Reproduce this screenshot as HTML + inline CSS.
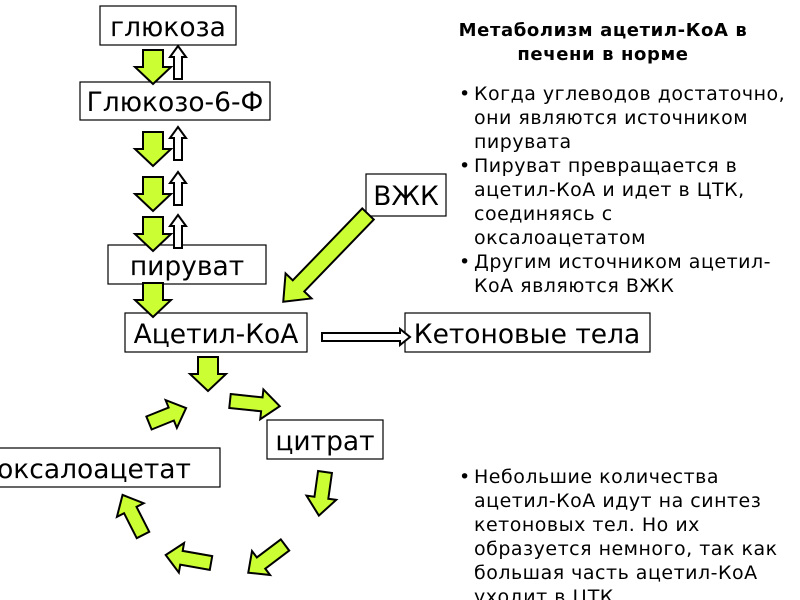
<!DOCTYPE html>
<html><head><meta charset="utf-8"><style>
html,body{margin:0;padding:0;background:#fff;width:800px;height:600px;overflow:hidden}
svg{display:block}
text{font-family:"DejaVu Sans","Liberation Sans",sans-serif;fill:#000}
.g{fill:#ccff33;stroke:#000;stroke-width:2}
.h{fill:#fff;stroke:#000;stroke-width:2}
.b{fill:#fff;stroke:#000;stroke-width:1.2}
.big{font-size:26.5px}
.t{font-size:19px;letter-spacing:0.5px}
</style></head><body>
<svg width="800" height="600" viewBox="0 0 800 600">
<defs>
<polygon id="ga" points="0,-10 17,-10 17,-18 34,0 17,18 17,10 0,10"/>
<polygon id="ha" points="0,-4 22,-4 22,-8 33,0 22,8 22,4 0,4"/>
</defs>
<rect class="b" x="100" y="6" width="136" height="39"/>
<text class="big" x="168" y="36" text-anchor="middle">глюкоза</text>
<rect class="b" x="80" y="82" width="190" height="38"/>
<text class="big" x="175" y="111" text-anchor="middle">Глюкозо-6-Ф</text>
<rect class="b" x="108" y="245" width="158" height="39"/>
<text class="big" x="187" y="275" text-anchor="middle">пируват</text>
<rect class="b" x="125" y="313" width="182" height="39"/>
<text class="big" x="216" y="343" text-anchor="middle">Ацетил-КоА</text>
<rect class="b" x="366" y="174" width="80" height="42"/>
<text class="big" x="406" y="205" text-anchor="middle">ВЖК</text>
<rect class="b" x="405" y="313" width="245" height="39"/>
<text class="big" x="527" y="343" text-anchor="middle">Кетоновые тела</text>
<rect class="b" x="267" y="420" width="116" height="39"/>
<text class="big" x="325" y="450" text-anchor="middle">цитрат</text>
<rect class="b" x="-10" y="448" width="230" height="39"/>
<text class="big" x="94" y="478" text-anchor="middle">оксалоацетат</text>

<use href="#ga" class="g" transform="translate(153,50) rotate(90)"/>
<use href="#ga" class="g" transform="translate(153,132) rotate(90)"/>
<use href="#ga" class="g" transform="translate(153,177) rotate(90)"/>
<use href="#ga" class="g" transform="translate(153,217) rotate(90)"/>
<use href="#ga" class="g" transform="translate(153,283) rotate(90)"/>
<use href="#ha" class="h" transform="translate(178,79) rotate(-90)"/>
<use href="#ha" class="h" transform="translate(178,160) rotate(-90)"/>
<use href="#ha" class="h" transform="translate(178,205) rotate(-90)"/>
<use href="#ha" class="h" transform="translate(178,248) rotate(-90)"/>
<polygon class="g" transform="translate(368,214) rotate(134)" points="0,-8 100,-8 100,-18 122,0 100,18 100,8 0,8"/>
<polygon class="h" points="322,333 400,333 400,329 410,337 400,345 400,341 322,341"/>
<use href="#ga" class="g" transform="translate(208,357) rotate(90)"/>
<polygon class="g" transform="translate(230,401) rotate(6)" points="0,-7 32,-7 32,-15 50,0 32,15 32,7 0,7"/>
<polygon class="g" transform="translate(325,472) rotate(98)" points="0,-7 26,-7 26,-15 44,0 26,15 26,7 0,7"/>
<polygon class="g" transform="translate(285,545) rotate(143)" points="0,-7 30,-7 30,-15 46,0 30,15 30,7 0,7"/>
<polygon class="g" transform="translate(211,563) rotate(190)" points="0,-7 30,-7 30,-15 46,0 30,15 30,7 0,7"/>
<polygon class="g" transform="translate(143,535) rotate(-117)" points="0,-7 28,-7 28,-15 45,0 28,15 28,7 0,7"/>
<polygon class="g" transform="translate(149,423) rotate(-22)" points="0,-7 24,-7 24,-15 40,0 24,15 24,7 0,7"/>

<text x="603" y="36" text-anchor="middle" style="font-size:18px;font-weight:bold;letter-spacing:0.6px">Метаболизм ацетил-КоА в</text>
<text x="603" y="60" text-anchor="middle" style="font-size:18px;font-weight:bold;letter-spacing:0.6px">печени в норме</text>
<text x="459" y="100" class="t">•</text>
<text x="474" y="100" class="t">Когда углеводов достаточно,</text>
<text x="474" y="124" class="t">они являются источником</text>
<text x="474" y="148" class="t">пирувата</text>
<text x="459" y="172" class="t">•</text>
<text x="474" y="172" class="t">Пируват превращается в</text>
<text x="474" y="196" class="t">ацетил-КоА и идет в ЦТК,</text>
<text x="474" y="220" class="t">соединяясь с</text>
<text x="474" y="244" class="t">оксалоацетатом</text>
<text x="459" y="268" class="t">•</text>
<text x="474" y="268" class="t">Другим источником ацетил-</text>
<text x="474" y="292" class="t">КоА являются ВЖК</text>
<text x="459" y="483" class="t">•</text>
<text x="474" y="483" class="t">Небольшие количества</text>
<text x="474" y="507" class="t">ацетил-КоА идут на синтез</text>
<text x="474" y="531" class="t">кетоновых тел. Но их</text>
<text x="474" y="555" class="t">образуется немного, так как</text>
<text x="474" y="579" class="t">большая часть ацетил-КоА</text>
<text x="474" y="603" class="t">уходит в ЦТК</text>
</svg>
</body></html>
